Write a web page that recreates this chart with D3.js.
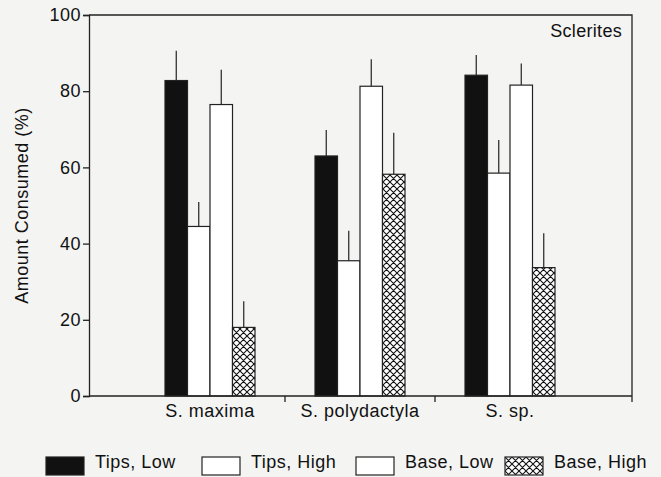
<!DOCTYPE html>
<html>
<head>
<meta charset="utf-8">
<script src="https://cdn.jsdelivr.net/npm/d3@7"></script>
<style>
  html, body { margin: 0; padding: 0; background: #f4f4f2; }
  svg { display: block; }
</style>
</head>
<body>
<div id="chart"></div>
<script>
const species = ['S. maxima', 'S. polydactyla', 'S. sp.'];
const series = ['Tips, Low', 'Tips, High', 'Base, Low', 'Base, High'];
// mean values per species, in series order
const means = [
  [82.8, 44.5, 76.5, 18.0],
  [63.0, 35.5, 81.3, 58.2],
  [84.2, 58.5, 81.6, 33.7],
];
// upper end of the error bar
const upper = [
  [90.6, 50.9, 85.6, 24.9],
  [69.8, 43.4, 88.4, 69.1],
  [89.5, 67.2, 87.3, 42.7],
];
const yTicks = [0, 20, 40, 60, 80, 100];

const width = 661;
const height = 477;
const plot = { left: 89, right: 632, top: 15, bottom: 396 };
const font = 'Liberation Sans, Arial, sans-serif';

const svg = d3.select('#chart')
  .append('svg')
  .attr('width', width)
  .attr('height', height)
  .attr('font-family', font);

svg.append('rect')
  .attr('width', width)
  .attr('height', height)
  .attr('fill', '#f4f4f2');

const defs = svg.append('defs');
const hatch = defs.append('pattern')
  .attr('id', 'crosshatch')
  .attr('patternUnits', 'userSpaceOnUse')
  .attr('width', 7)
  .attr('height', 7);
hatch.append('rect').attr('width', 7).attr('height', 7).attr('fill', '#fff');
hatch.append('path')
  .attr('d', 'M0,0 L7,7 M7,0 L0,7 M-1,6 L1,8 M6,-1 L8,1 M-1,1 L1,-1 M6,8 L8,6')
  .attr('stroke', '#111')
  .attr('stroke-width', 1.1)
  .attr('fill', 'none');

const fills = ['#111', '#fff', '#fff', 'url(#crosshatch)'];

const x0 = d3.scaleBand()
  .domain(species)
  .range([135, 585]);

const x1 = d3.scaleBand()
  .domain(series)
  .range([x0.bandwidth() / 2 - 45, x0.bandwidth() / 2 + 45]);

const y = d3.scaleLinear()
  .domain([0, 100])
  .range([plot.bottom, plot.top]);

// frame
svg.append('path')
  .attr('d', `M${plot.left},${plot.top} H${plot.right} V${plot.bottom}`)
  .attr('fill', 'none')
  .attr('stroke', '#222')
  .attr('stroke-width', 1.3);

// bars
const groups = svg.append('g')
  .selectAll('g')
  .data(species)
  .join('g')
  .attr('transform', (d) => `translate(${x0(d)},0)`);

groups.selectAll('rect')
  .data((d, i) => series.map((s, j) => ({ s, j, v: means[i][j], hi: upper[i][j] })))
  .join('rect')
  .attr('x', (d) => x1(d.s))
  .attr('y', (d) => y(d.v))
  .attr('width', x1.bandwidth())
  .attr('height', (d) => y(0) - y(d.v))
  .attr('fill', (d) => fills[d.j])
  .attr('stroke', '#222')
  .attr('stroke-width', 1.2);

groups.selectAll('line.err')
  .data((d, i) => series.map((s, j) => ({ s, v: means[i][j], hi: upper[i][j] })))
  .join('line')
  .attr('class', 'err')
  .attr('x1', (d) => x1(d.s) + x1.bandwidth() / 2)
  .attr('x2', (d) => x1(d.s) + x1.bandwidth() / 2)
  .attr('y1', (d) => y(d.v))
  .attr('y2', (d) => y(d.hi))
  .attr('stroke', '#222')
  .attr('stroke-width', 1.2);

// y axis
const yAxis = svg.append('g')
  .attr('transform', `translate(${plot.left},0)`)
  .call(d3.axisLeft(y).tickValues(yTicks).tickSize(6).tickPadding(2));
yAxis.select('.domain').attr('stroke', '#222').attr('stroke-width', 1.3);
yAxis.selectAll('.tick line').attr('stroke', '#222').attr('stroke-width', 1.3);
yAxis.selectAll('.tick text')
  .attr('font-size', 18)
  .attr('letter-spacing', 0.5)
  .attr('font-family', font)
  .attr('fill', '#111');

// x axis
const xAxis = svg.append('g')
  .attr('transform', `translate(0,${plot.bottom})`)
  .call(d3.axisBottom(x0).tickSize(0).tickPadding(8));
xAxis.select('.domain').remove();
xAxis.append('line')
  .attr('x1', plot.left)
  .attr('x2', plot.right)
  .attr('stroke', '#222')
  .attr('stroke-width', 1.3);
xAxis.selectAll('.tick text')
  .attr('font-size', 18)
  .attr('letter-spacing', 0.5)
  .attr('font-family', font)
  .attr('fill', '#111');
// ticks between groups
const dividers = species.slice(1).map((d) => x0(d)).concat([plot.right]);
xAxis.selectAll('line.div')
  .data(dividers)
  .join('line')
  .attr('class', 'div')
  .attr('x1', (d) => d)
  .attr('x2', (d) => d)
  .attr('y1', 0)
  .attr('y2', 6)
  .attr('stroke', '#222')
  .attr('stroke-width', 1.3);

// labels
svg.append('text')
  .attr('transform', `translate(28,${(plot.top + plot.bottom) / 2}) rotate(-90)`)
  .attr('text-anchor', 'middle')
  .attr('font-size', 18)
  .attr('letter-spacing', 0.5)
  .attr('fill', '#111')
  .text('Amount Consumed (%)');

svg.append('text')
  .attr('x', plot.right - 10)
  .attr('y', 37)
  .attr('text-anchor', 'end')
  .attr('font-size', 18)
  .attr('letter-spacing', 0.3)
  .attr('fill', '#111')
  .text('Sclerites');

// legend
const legendX = [46, 202, 356, 505];
const legend = svg.append('g')
  .selectAll('g')
  .data(series)
  .join('g')
  .attr('transform', (d, i) => `translate(${legendX[i]},457)`);
legend.append('rect')
  .attr('width', 38)
  .attr('height', 18)
  .attr('fill', (d, i) => fills[i])
  .attr('stroke', '#222')
  .attr('stroke-width', 1.2);
legend.append('text')
  .attr('x', 49)
  .attr('y', 11)
  .attr('font-size', 18)
  .attr('letter-spacing', 0.5)
  .attr('fill', '#111')
  .text((d) => d);
</script>
</body>
</html>
